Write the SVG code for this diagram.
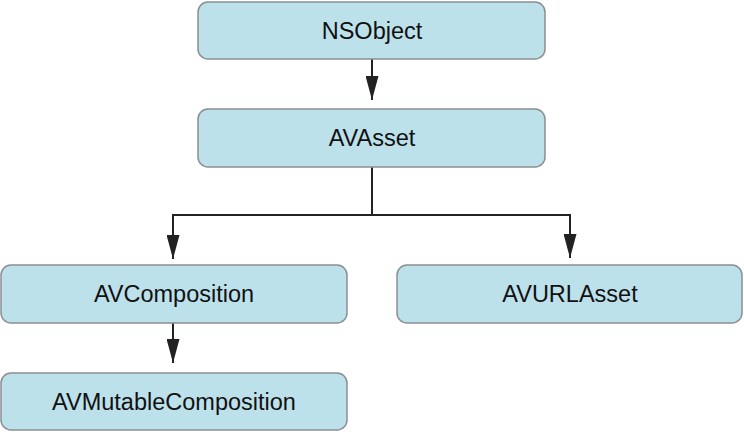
<svg xmlns="http://www.w3.org/2000/svg" width="744" height="432" viewBox="0 0 744 432">
<defs>
<style>
.box{fill:#bde1eb;stroke:#8a8f92;stroke-width:1.5}
.lbl{font-family:"Liberation Sans",Arial,sans-serif;font-size:23.5px;fill:#111;text-anchor:middle}
.con{fill:none;stroke:#222;stroke-width:2}
</style>
<marker id="ah" markerWidth="24" markerHeight="13" refX="24" refY="6.5" orient="auto" markerUnits="userSpaceOnUse" viewBox="0 0 24 13">
<path d="M0,0 L24,6.5 L0,13 Z" fill="#222"/>
</marker>
</defs>
<rect width="744" height="432" fill="#fff"/>
<g id="connectors">
<path class="con" d="M372,59 V100" marker-end="url(#ah)"/>
<path class="con" d="M372,167 V215 H173 V259" marker-end="url(#ah)"/>
<path class="con" d="M372,215 H570 V258" marker-end="url(#ah)"/>
<path class="con" d="M173,323 V363" marker-end="url(#ah)"/>
</g>
<g id="NSObject">
<rect class="box" x="198" y="2" width="347" height="57" rx="10"/>
<text class="lbl" x="372" y="39">NSObject</text>
</g>
<g id="AVAsset">
<rect class="box" x="198" y="109" width="347" height="58" rx="10"/>
<text class="lbl" x="372" y="146">AVAsset</text>
</g>
<g id="AVComposition">
<rect class="box" x="1" y="265" width="346" height="58" rx="10"/>
<text class="lbl" x="174" y="302">AVComposition</text>
</g>
<g id="AVURLAsset">
<rect class="box" x="397" y="265" width="345" height="58" rx="10"/>
<text class="lbl" x="570" y="302">AVURLAsset</text>
</g>
<g id="AVMutableComposition">
<rect class="box" x="1" y="373" width="346" height="57" rx="10"/>
<text class="lbl" x="174" y="410">AVMutableComposition</text>
</g>
</svg>
